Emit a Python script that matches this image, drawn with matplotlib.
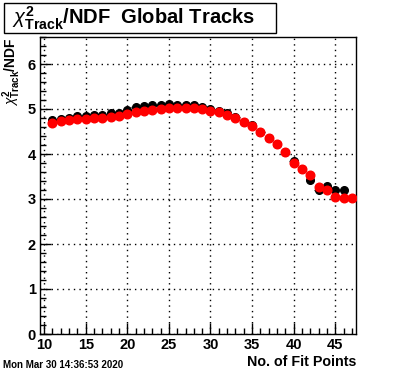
import matplotlib
matplotlib.use('Agg')
from matplotlib import pyplot as plt
from matplotlib.ticker import MultipleLocator
from matplotlib.patches import Rectangle

plt.rcParams['font.family'] = ['Liberation Sans', 'DejaVu Sans']
plt.rcParams['mathtext.fontset'] = 'custom'
plt.rcParams['mathtext.rm'] = 'Liberation Sans:bold'
plt.rcParams['mathtext.bf'] = 'Liberation Sans:bold'
plt.rcParams['mathtext.it'] = 'Liberation Sans:italic'

# fit points
red_x = list(range(11, 48))
red_y = [4.70, 4.73, 4.76, 4.78, 4.78, 4.79, 4.80, 4.83, 4.85, 4.89,
         4.93, 4.96, 4.98, 5.00, 5.03, 5.03, 5.03, 5.02, 5.00, 4.96,
         4.93, 4.87, 4.81, 4.71, 4.62, 4.50, 4.35, 4.22, 4.04, 3.81,
         3.67, 3.53, 3.26, 3.20, 3.04, 3.02, 3.02]

black_x = list(range(11, 47))
black_y = [4.75, 4.77, 4.80, 4.84, 4.85, 4.86, 4.87, 4.90, 4.92, 4.98,
           5.04, 5.07, 5.08, 5.09, 5.11, 5.10, 5.10, 5.10, 5.04, 5.00,
           4.96, 4.90, 4.83, 4.72, 4.64, 4.50, 4.36, 4.22, 4.05, 3.85,
           3.67, 3.43, 3.19, 3.29, 3.20, 3.20]

fig = plt.figure(figsize=(3.96, 3.72), dpi=100)
ax = fig.add_axes([40 / 396, 38 / 372, 316 / 396, 297 / 372])

ax.errorbar(black_x, black_y, xerr=0.5, fmt='o', color='black', ms=5.5,
            elinewidth=1, capsize=0, zorder=3)
ax.plot(red_x, red_y, 'o', color='#ff0000', ms=6.2, mec='#ff0000', zorder=4)

ax.set_xlim(9.5, 47.5)
ax.set_ylim(0, 6.6)
ax.xaxis.set_major_locator(MultipleLocator(5))
ax.xaxis.set_minor_locator(MultipleLocator(1))
ax.yaxis.set_major_locator(MultipleLocator(1))
ax.yaxis.set_minor_locator(MultipleLocator(0.2))
ax.tick_params(which='both', direction='in', top=False, right=False,
               width=1, labelsize=10.5)
ax.tick_params(which='major', length=8, pad=3)
ax.tick_params(which='minor', length=4)
for lab in ax.get_xticklabels() + ax.get_yticklabels():
    lab.set_fontweight('bold')
ax.grid(True, which='major', linestyle=(0, (1, 3)), color='black', linewidth=1)
for s in ax.spines.values():
    s.set_linewidth(1)

fig.text(356 / 396, 1 - 362 / 372, 'No. of Fit Points', ha='right', va='center',
         fontsize=10.3, fontweight='bold')
fig.text(12 / 396, 1 - 37 / 372, r'$\mathit{\chi}^{2}_{\mathbf{Track}}$/NDF',
         rotation=90, ha='center', va='top', fontsize=10, fontweight='bold')

fig.patches.append(Rectangle((4 / 396, 1 - 33 / 372), 272 / 396, 30 / 372,
                             transform=fig.transFigure, fill=True,
                             facecolor='white', edgecolor='black', lw=1))
fig.text(12 / 396, 1 - 18 / 372, r'$\mathit{\chi}^{2}_{\mathbf{Track}}$/NDF  Global Tracks',
         ha='left', va='center', fontsize=14.5, fontweight='bold')

fig.text(3 / 396, 1 - 365 / 372, 'Mon Mar 30 14:36:53 2020', ha='left', va='center',
         fontsize=7, fontweight='bold')

fig.savefig('out.png', dpi=100)
